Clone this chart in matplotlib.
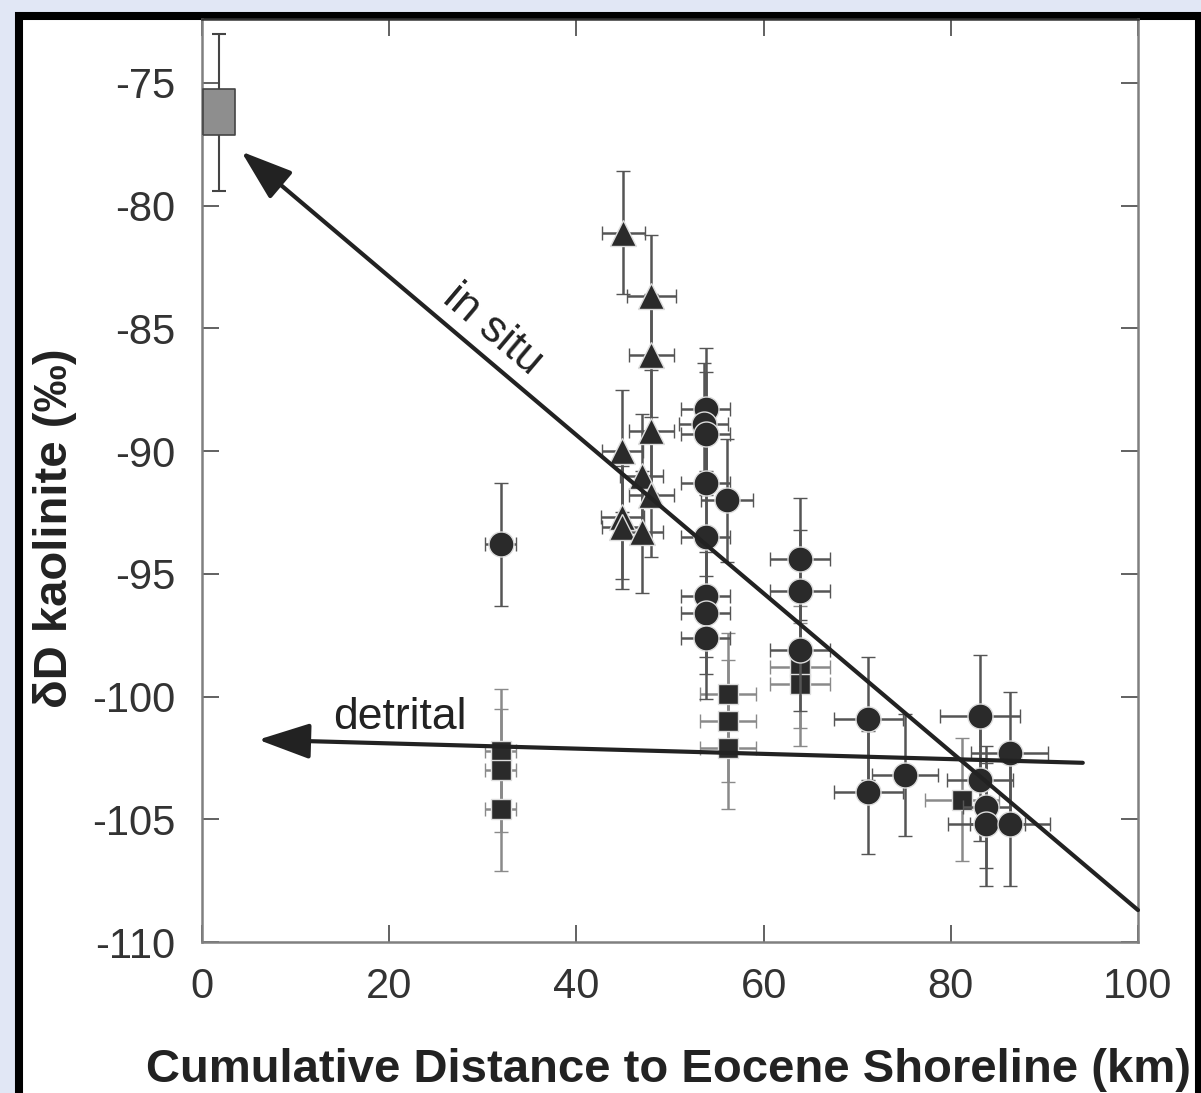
import numpy as np
import matplotlib
matplotlib.use("Agg")
import matplotlib.pyplot as plt
from matplotlib.patches import Rectangle

plt.rcParams['font.family'] = ['Liberation Sans', 'DejaVu Sans']
plt.rcParams['axes.unicode_minus'] = False

# Triangles
tri_x = [45.0, 48.0, 48.0, 44.9, 48.0, 47.0, 48.0, 44.9, 44.9, 47.0]
tri_y = [-81.1, -83.7, -86.1, -90.0, -89.2, -91.0, -91.8, -92.7, -93.1, -93.3]
tri_xerr = [2.3, 2.6, 2.4, 2.2, 2.4, 2.3, 2.4, 2.3, 2.2, 2.3]
tri_yerr = [2.5] * len(tri_x)

# Circles
circ_x = [31.9, 53.8, 53.6, 53.8, 53.8, 56.1, 53.8, 53.8, 53.8, 53.8, 63.9,
          63.9, 63.9, 71.2, 71.2, 75.1, 83.1, 86.3, 83.1, 83.8, 83.8, 86.3]
circ_y = [-93.8, -88.3, -88.9, -89.3, -91.3, -92.0, -93.5, -95.9, -96.6, -97.6, -94.4,
          -95.7, -98.1, -100.9, -103.9, -103.2, -100.8, -102.3, -103.4, -104.5, -105.2, -105.2]
circ_xerr = [1.7, 2.6, 2.6, 2.6, 2.6, 2.8, 2.6, 2.6, 2.6, 2.6, 3.2,
             3.2, 3.2, 3.7, 3.7, 3.5, 4.3, 4.1, 3.5, 2.5, 4.1, 4.3]
circ_yerr = [2.5] * len(circ_x)

# Squares
sq_x = [31.9, 31.9, 31.9, 56.2, 56.2, 56.2, 63.9, 63.9, 81.2]
sq_y = [-102.2, -103.0, -104.6, -99.9, -101.0, -102.1, -98.8, -99.5, -104.2]
sq_xerr = [1.7, 1.7, 1.7, 3.0, 3.0, 3.0, 3.2, 3.2, 4.0]
sq_yerr = [2.5] * len(sq_x)

# Modern value (grey box)
mod_x = [1.8]
mod_y = [-76.2]
mod_yerr = [3.2]

# Trend arrows: (start, tip)
insitu_line = [(100.0, -108.7), (4.2, -77.8)]
detrital_line = [(94.1, -102.7), (6.0, -101.76)]

W, H = 1201, 1093
fig = plt.figure(figsize=(W / 100, H / 100), dpi=100, facecolor='#e1e7f5')
fig.patches.append(Rectangle((19 / W, -0.05), (1199 - 19) / W, 1.05 - 15.5 / H,
                             transform=fig.transFigure, facecolor='white',
                             edgecolor='black', linewidth=5.8, zorder=-10))

ax = fig.add_axes([202 / W, 1 - 942 / H, (1138 - 202) / W, (942 - 19) / H])
ax.set_zorder(1)
ax.set_facecolor('white')

ebkw = dict(linestyle='none', elinewidth=1.8, capsize=5, capthick=1.6)

ax.errorbar(sq_x, sq_y, xerr=sq_xerr, yerr=sq_yerr, fmt='s', ms=15, mfc='#2a2a2a',
            mec='#dddddd', mew=1.0, ecolor='#8a8a8a', zorder=3, **ebkw)
ax.errorbar(circ_x, circ_y, xerr=circ_xerr, yerr=circ_yerr, fmt='o', ms=18, mfc='#2a2a2a',
            mec='#dddddd', mew=1.0, ecolor='#555555', zorder=4, **ebkw)
ax.errorbar(tri_x, tri_y, xerr=tri_xerr, yerr=tri_yerr, fmt='^', ms=19, mfc='#2a2a2a',
            mec='#dddddd', mew=1.0, ecolor='#555555', zorder=4, **ebkw)

rect_marker = [(-1, -1.4), (1, -1.4), (1, 1.4), (-1, 1.4), (-1, -1.4)]
ax.errorbar(mod_x, mod_y, yerr=mod_yerr, fmt='none', ecolor='#444444',
            elinewidth=1.5, capsize=5, capthick=1.5, zorder=3)
ax.plot(mod_x, mod_y, linestyle='none', marker=rect_marker, ms=33, mfc='#8e8e8e',
        mec='#444444', mew=1.2, zorder=5, clip_on=False)

for (x0, y0), (x1, y1) in [insitu_line, detrital_line]:
    ax.annotate('', xy=(x1, y1), xytext=(x0, y0),
                arrowprops=dict(arrowstyle='-|>,head_length=1.6,head_width=0.55',
                                mutation_scale=20, color='#222222', lw=3.0,
                                shrinkA=0, shrinkB=0), zorder=6)

ax.text(31.1, -85.06, 'in situ', fontsize=32, rotation=-40.2, rotation_mode='anchor',
        ha='center', va='center', color='#222222', zorder=7)
ax.text(21.15, -100.87, 'detrital', fontsize=32, ha='center', va='center',
        color='#222222', zorder=7)

ax.set_xlim(0, 100)
ax.set_ylim(-110, -72.4)
ax.set_xticks(np.arange(0, 101, 20))
ax.set_yticks(np.arange(-110, -74, 5))
ax.tick_params(direction='in', length=12, width=1.3, color='#555555',
               top=True, right=True, labelsize=30, labelcolor='#333333')
ax.tick_params(axis='y', pad=19)
ax.tick_params(axis='x', pad=18)
for sp in ax.spines.values():
    sp.set_color('#808080')
    sp.set_linewidth(1.8)
ax.spines['top'].set_color('#333333')

fig.text(668 / W, 1 - 1070 / H, 'Cumulative Distance to Eocene Shoreline (km)',
         fontsize=34, fontweight='bold', ha='center', va='center', color='#222222')
fig.text(55 / W, 1 - 528 / H, 'δD kaolinite (‰)', fontsize=34, fontweight='bold',
         rotation=90, ha='center', va='center', color='#222222')

fig.savefig('out.png', dpi=100, facecolor=fig.get_facecolor())
